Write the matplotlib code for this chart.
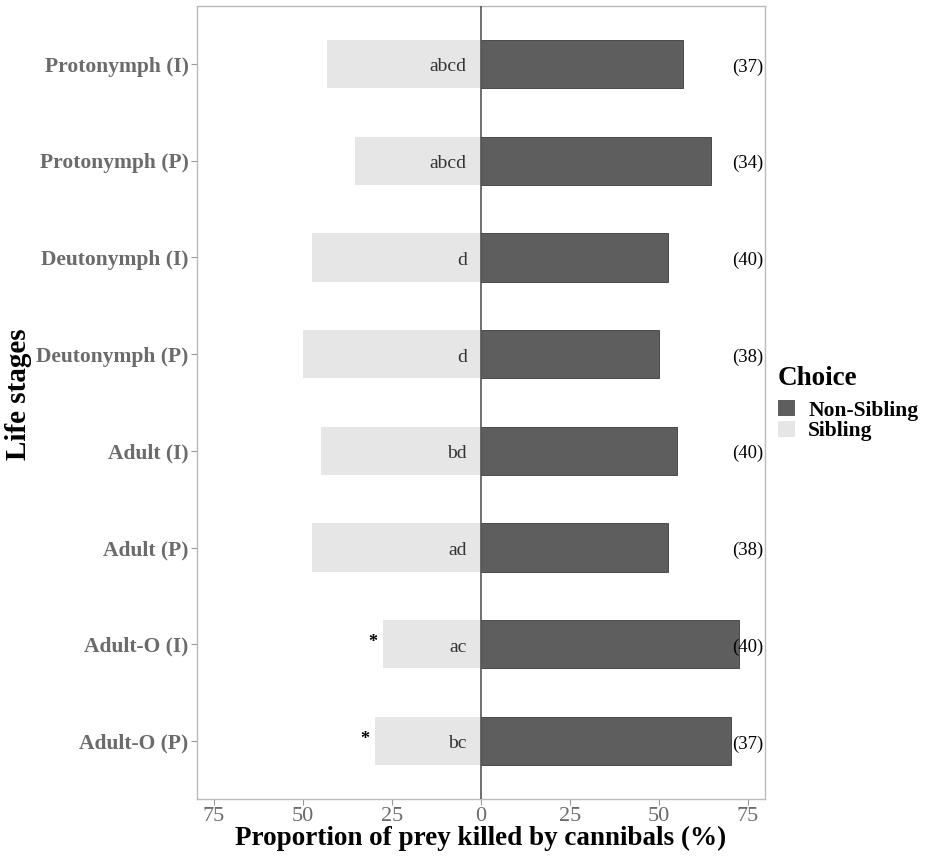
import matplotlib
matplotlib.use("Agg")
import matplotlib.pyplot as plt
from matplotlib.patches import Patch

# data (top to bottom)
stages = ["Protonymph (I)", "Protonymph (P)", "Deutonymph (I)", "Deutonymph (P)",
          "Adult (I)", "Adult (P)", "Adult-O (I)", "Adult-O (P)"]
sibling = [43.2, 35.3, 47.5, 50.0, 45.0, 47.4, 27.5, 29.7]
non_sibling = [56.8, 64.7, 52.5, 50.0, 55.0, 52.6, 72.5, 70.3]
letters = ["abcd", "abcd", "d", "d", "bd", "ad", "ac", "bc"]
n_obs = [37, 34, 40, 38, 40, 38, 40, 37]
signif = ["", "", "", "", "", "", "*", "*"]

dark = "#5e5e5e"
light = "#e6e6e6"
serif = ["Liberation Serif", "DejaVu Serif"]
plt.rcParams["font.family"] = serif

fig = plt.figure(figsize=(9.28, 8.56), dpi=100)
ax = fig.add_axes([0.2123, 0.0666, 0.6121, 0.9264])

ypos = list(range(len(stages)))
ax.barh(ypos, [-v for v in sibling], height=0.5, color=light, zorder=2)
ax.barh(ypos, non_sibling, height=0.5, color=dark, edgecolor="#3a3a3a",
        linewidth=0.6, zorder=2)
ax.axvline(0, color="#555555", linewidth=1.2, zorder=3)

for y, lab, n, s, sib in zip(ypos, letters, n_obs, signif, sibling):
    ax.text(-4, y + 0.03, lab, ha="right", va="center", fontsize=14, color="#333333", zorder=4)
    ax.text(75, y + 0.03, f"({n})", ha="center", va="center", fontsize=13.5,
            color="black", zorder=4)
    if s:
        ax.text(-(sib + 3), y - 0.02, s, ha="center", va="center", fontsize=13,
                fontweight="bold", color="black", zorder=4)

ax.set_xlim(-79.8, 79.8)
ax.set_ylim(len(stages) - 0.4, -0.6)
ax.set_xticks([-75, -50, -25, 0, 25, 50, 75])
ax.set_xticklabels(["75", "50", "25", "0", "25", "50", "75"])
ax.set_yticks(ypos)
ax.set_yticklabels(stages, fontweight="bold")
ax.tick_params(axis="x", labelsize=16, labelcolor="#6b6b6b", color="#999999",
               length=4, width=0.8, pad=2)
ax.tick_params(axis="y", labelsize=15.5, labelcolor="#6b6b6b", color="#999999",
               length=4, width=0.8, pad=2)
for sp in ax.spines.values():
    sp.set_color("#bbbbbb")
    sp.set_linewidth(1.0)

ax.set_xlabel("Proportion of prey killed by cannibals (%)", fontsize=19.5,
              fontweight="bold", labelpad=0)
ax.set_ylabel("Life stages", fontsize=21, fontweight="bold")
ax.yaxis.set_label_coords(-0.29, 0.51)

# legend: title as separate text so the gap below it can be set
fig.text(778 / 928, 1 - 378 / 856, "Choice", ha="left", va="center",
         fontsize=19.5, fontweight="bold")
handles = [Patch(facecolor=dark, edgecolor="none"), Patch(facecolor=light, edgecolor="none")]
leg = fig.legend(handles, ["Non-Sibling", "Sibling"],
                 loc="upper left", bbox_to_anchor=(778 / 928, 1 - 400 / 856), frameon=False,
                 prop={"family": serif, "weight": "bold", "size": 15.5},
                 handlelength=0.8, handleheight=0.8, handletextpad=0.6,
                 labelspacing=0.0, borderaxespad=0.0, borderpad=0.0)

fig.savefig("out.png", dpi=100)
